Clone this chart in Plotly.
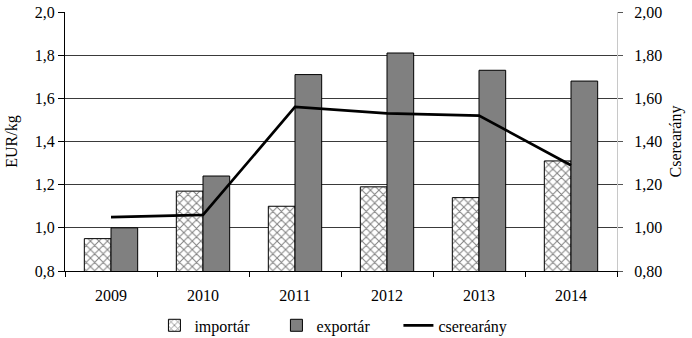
import plotly.graph_objects as go

# Éves adatok
years = ["2009", "2010", "2011", "2012", "2013", "2014"]
import_price = [0.95, 1.17, 1.10, 1.19, 1.14, 1.31]   # importár, EUR/kg
export_price = [1.00, 1.24, 1.71, 1.81, 1.73, 1.68]   # exportár, EUR/kg
exchange_ratio = [1.05, 1.06, 1.56, 1.53, 1.52, 1.29]  # cserearány

FONT = "Times New Roman, Liberation Serif, serif"
FS = 16

fig = go.Figure()

fig.add_trace(go.Bar(
    name="importár",
    x=years,
    y=import_price,
    marker=dict(
        color="white",
        line=dict(color="black", width=1),
        pattern=dict(shape="x", fgcolor="black", bgcolor="white",
                     size=6, solidity=0.3),
    ),
))
fig.add_trace(go.Bar(
    name="exportár",
    x=years,
    y=export_price,
    marker=dict(color="#808080", line=dict(color="black", width=1)),
))
fig.add_trace(go.Scatter(
    name="cserearány",
    x=years,
    y=exchange_ratio,
    yaxis="y2",
    mode="lines",
    line=dict(color="black", width=2.7),
))

fig.update_layout(
    width=692,
    height=338,
    margin=dict(l=65, r=75, t=12, b=67, autoexpand=False),
    paper_bgcolor="white",
    plot_bgcolor="white",
    separators=", ",
    font=dict(family=FONT, size=FS, color="black"),
    barmode="group",
    bargap=0.42,
    bargroupgap=0,
    showlegend=True,
    legend=dict(
        orientation="h",
        x=0.162, xanchor="left",
        y=-0.21, yanchor="middle",
        font=dict(family=FONT, size=FS),
        itemwidth=30,
        entrywidth=77,
        entrywidthmode="pixels",
        bgcolor="rgba(0,0,0,0)",
    ),
    xaxis=dict(
        type="category",
        automargin=False,
        showline=True,
        linecolor="black",
        linewidth=1,
        ticks="outside",
        tickson="boundaries",
        ticklen=5,
        tickcolor="black",
        ticklabelstandoff=10,
        showgrid=False,
        tickfont=dict(family=FONT, size=FS),
    ),
    yaxis=dict(
        range=[0.8, 2.0],
        dtick=0.2,
        tick0=0.8,
        tickformat=".1f",
        automargin=False,
        showline=True,
        linecolor="black",
        linewidth=1,
        ticks="outside",
        ticklen=6,
        tickcolor="black",
        showgrid=True,
        gridcolor="#3a3a3a",
        gridwidth=1,
        zeroline=False,
        title=dict(text="EUR/kg", font=dict(family=FONT, size=FS), standoff=13),
        tickfont=dict(family=FONT, size=FS),
    ),
    yaxis2=dict(
        range=[0.8, 2.0],
        dtick=0.2,
        tick0=0.8,
        tickformat=".2f",
        overlaying="y",
        side="right",
        automargin=False,
        showline=True,
        linecolor="#c8c8c8",
        linewidth=1,
        ticks="outside",
        ticklen=5,
        tickcolor="#555555",
        ticklabelstandoff=8,
        showgrid=False,
        zeroline=False,
        title=dict(text="Cserearány", font=dict(family=FONT, size=FS), standoff=8),
        tickfont=dict(family=FONT, size=FS),
    ),
)

fig.write_html("out.html")
